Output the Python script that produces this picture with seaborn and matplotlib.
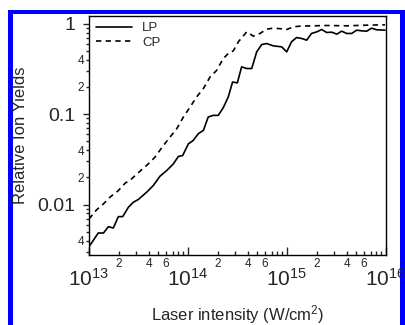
import numpy as np
import pandas as pd
import matplotlib
matplotlib.use("Agg")
import matplotlib.pyplot as plt
import matplotlib.ticker as mticker
from matplotlib.patches import Rectangle
from matplotlib.lines import Line2D
import seaborn as sns

# ---- data ----
lp_intensity = [1.00e13, 1.24e13, 1.40e13, 1.57e13, 1.76e13, 1.98e13, 2.19e13, 2.50e13,
                2.80e13, 3.15e13, 3.82e13, 4.47e13, 5.21e13, 6.09e13, 7.11e13, 7.99e13,
                8.83e13, 1.01e14, 1.13e14, 1.27e14, 1.43e14, 1.60e14, 1.80e14, 2.02e14,
                2.27e14, 2.55e14, 2.82e14, 3.15e14, 3.48e14, 3.92e14, 4.40e14, 4.94e14,
                5.55e14, 6.23e14, 7.28e14, 8.84e14, 9.93e14, 1.11e15, 1.25e15, 1.41e15,
                1.58e15, 1.77e15, 2.00e15, 2.24e15, 2.52e15, 2.83e15, 3.18e15, 3.57e15,
                4.01e15, 4.50e15, 5.06e15, 5.68e15, 6.38e15, 7.16e15, 8.05e15, 9.77e15]
lp_yield = [0.00342, 0.00485, 0.00485, 0.00570, 0.00551, 0.00736, 0.00736, 0.00934,
            0.0106, 0.0114, 0.0137, 0.0163, 0.0206, 0.0238, 0.0282, 0.0341,
            0.0349, 0.0471, 0.0513, 0.0608, 0.0662, 0.0931, 0.0971, 0.0971,
            0.118, 0.155, 0.227, 0.222, 0.334, 0.320, 0.320, 0.489,
            0.590, 0.605, 0.570, 0.556, 0.489, 0.632, 0.705, 0.688,
            0.659, 0.782, 0.815, 0.865, 0.801, 0.808, 0.768, 0.829,
            0.782, 0.782, 0.851, 0.836, 0.829, 0.895, 0.858, 0.851]

cp_intensity = [1.00e13, 1.19e13, 1.40e13, 1.63e13, 1.98e13, 2.31e13, 2.70e13, 3.27e13,
                3.97e13, 4.64e13, 5.64e13, 6.58e13, 7.69e13, 8.98e13, 1.05e14, 1.22e14,
                1.43e14, 1.67e14, 1.95e14, 2.27e14, 2.55e14, 2.87e14, 3.22e14, 3.92e14,
                4.57e14, 5.34e14, 6.23e14, 7.28e14, 8.84e14, 9.93e14, 1.16e15, 1.35e15,
                1.85e15, 2.52e15, 4.01e15, 6.38e15, 9.77e15]
cp_yield = [0.00693, 0.00873, 0.0102, 0.0121, 0.0143, 0.0172, 0.0193, 0.0234,
            0.0282, 0.0335, 0.0451, 0.0558, 0.0690, 0.0931, 0.120, 0.155,
            0.192, 0.258, 0.306, 0.413, 0.469, 0.502, 0.631, 0.815,
            0.730, 0.782, 0.873, 0.895, 0.880, 0.865, 0.926, 0.942,
            0.950, 0.958, 0.950, 0.966, 0.975]

series_names = ["LP", "CP"]
x_major_labels = ["10^{13}", "10^{14}", "10^{15}", "10^{16}"]
y_major_labels = ["1", "0.1", "0.01"]

df = pd.concat([
    pd.DataFrame({"I": lp_intensity, "Y": lp_yield, "pol": "LP"}),
    pd.DataFrame({"I": cp_intensity, "Y": cp_yield, "pol": "CP"}),
], ignore_index=True)

sns.set_style("ticks")
plt.rcParams["font.family"] = ["Liberation Sans", "DejaVu Sans"]
plt.rcParams["mathtext.fontset"] = "custom"
plt.rcParams["mathtext.rm"] = "Liberation Sans"
plt.rcParams["mathtext.it"] = "Liberation Sans:italic"
plt.rcParams["mathtext.default"] = "regular"

fig = plt.figure(figsize=(4.05, 3.25), dpi=100)
ax = fig.add_axes([89/405, 1 - 255/325, (386-89)/405, (255-16)/325])

sns.lineplot(data=df, x="I", y="Y", hue="pol", style="pol",
             hue_order=series_names, style_order=series_names,
             palette={"LP": "black", "CP": "black"},
             dashes={"LP": "", "CP": (3.2, 2.6)},
             linewidth=1.2, ax=ax, legend=False, sort=False)

ax.set_xscale("log")
ax.set_yscale("log")
ax.set_xlim(1e13, 1e16)
ax.set_ylim(0.00277, 1.22)

for s in ax.spines.values():
    s.set_visible(True)
    s.set_linewidth(1.0)
    s.set_color("black")

# x axis ticks
ax.xaxis.set_major_locator(mticker.LogLocator(base=10, numticks=10))
ax.xaxis.set_minor_locator(mticker.LogLocator(base=10, subs=np.arange(2, 10), numticks=20))
xmaj = {13 + i: lab for i, lab in enumerate(x_major_labels)}

def xmajor_fmt(v, pos):
    e = int(round(np.log10(v)))
    return "$" + xmaj.get(e, "10^{%d}" % e) + "$"

def minor_fmt(v, pos):
    m = v / 10 ** np.floor(np.log10(v) + 1e-9)
    m = int(round(m))
    return str(m) if m in (2, 4, 6) else ""

def yminor_fmt(v, pos):
    m = v / 10 ** np.floor(np.log10(v) + 1e-9)
    m = int(round(m))
    return str(m) if m in (2, 4) else ""

ax.xaxis.set_major_formatter(mticker.FuncFormatter(xmajor_fmt))
ax.xaxis.set_minor_formatter(mticker.FuncFormatter(minor_fmt))

ymaj = {0: y_major_labels[0], -1: y_major_labels[1], -2: y_major_labels[2]}
ax.yaxis.set_major_locator(mticker.LogLocator(base=10, numticks=10))
ax.yaxis.set_minor_locator(mticker.LogLocator(base=10, subs=np.arange(2, 10), numticks=20))
ax.yaxis.set_major_formatter(mticker.FuncFormatter(
    lambda v, p: ymaj.get(int(round(np.log10(v))), "")))
ax.yaxis.set_minor_formatter(mticker.FuncFormatter(yminor_fmt))

ax.tick_params(axis="x", which="major", direction="in", length=6, width=1,
               labelsize=15, pad=9, bottom=True, top=False)
ax.tick_params(axis="x", which="minor", direction="in", length=3, width=1,
               labelsize=8.5, pad=2, bottom=True, top=False)
ax.tick_params(axis="y", which="major", direction="out", length=4, width=1,
               labelsize=14, pad=6, left=True, right=False)
ax.tick_params(axis="y", which="minor", direction="out", length=2.5, width=1,
               labelsize=8.5, pad=1, left=True, right=False)

ax.set_xlabel("Laser intensity (W/cm$^2$)", fontsize=12)
ax.set_ylabel("Relative Ion Yields", fontsize=12)
ax.xaxis.set_label_coords(0.5, -0.2)
ax.yaxis.set_label_coords(-0.205, 0.5)

handles = [Line2D([0], [0], color="black", lw=1.2),
           Line2D([0], [0], color="black", lw=1.2, dashes=(3.2, 2.6))]
ax.legend(handles, series_names, loc="upper left", bbox_to_anchor=(0.015, 0.985),
          frameon=False, fontsize=9.5, handlelength=2.7, handletextpad=0.8,
          labelspacing=0.15, borderaxespad=0, borderpad=0.2)

# blue frame of the original figure
blue = "#0000ff"
for rect in [(8/405, 1 - 14/325, 1 - 8/405, 4/325),
             (8/405, 0, 5/405, 1 - 10/325),
             (400/405, 0, 5/405, 1 - 10/325)]:
    fig.add_artist(Rectangle(rect[:2], rect[2], rect[3],
                             transform=fig.transFigure, color=blue, lw=0, zorder=-1))

fig.savefig("out.png", dpi=100)
